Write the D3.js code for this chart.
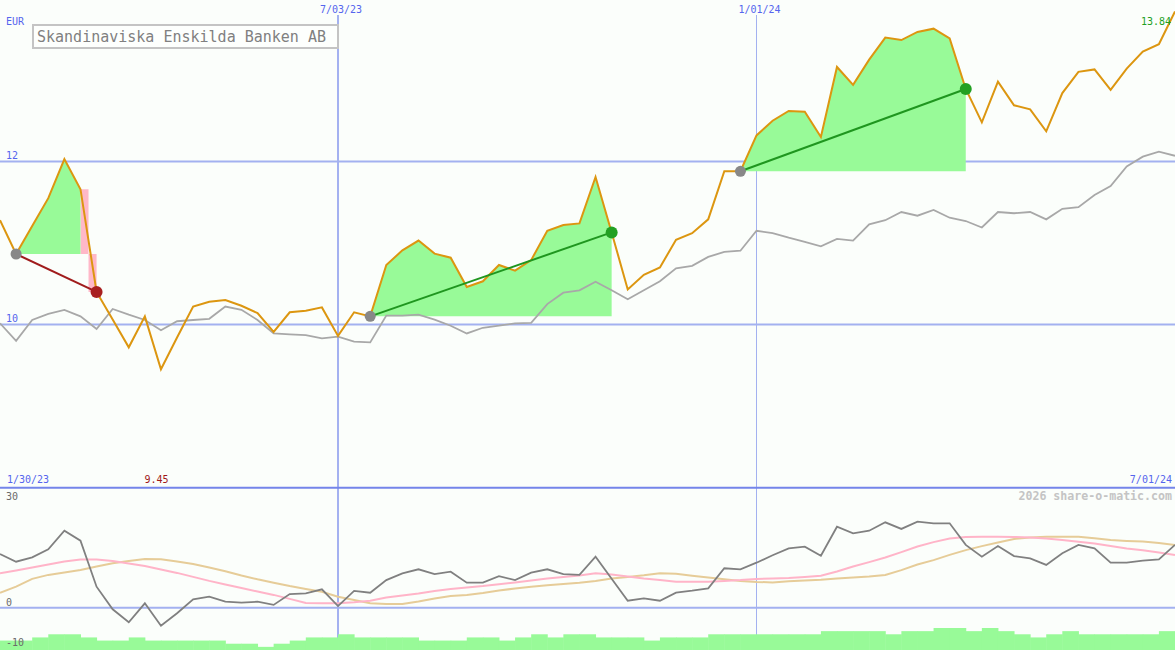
<!DOCTYPE html>
<html><head><meta charset="utf-8">
<script src="https://cdn.jsdelivr.net/npm/d3@7"></script>
<style>body{margin:0;background:#fbfefb}svg{display:block}</style>
</head><body>
<svg id="c" width="1175" height="650"></svg>
<script>
// ---- data ----
const startDate = new Date(2023, 1, 6);
const endDate = new Date(2024, 6, 1);
const dates = d3.timeMonday.range(startDate, new Date(2024, 6, 2));
const title = "Skandinaviska Enskilda Banken AB";
const currency = "EUR";
const priceTicks = [10, 12];
const lowerTicks = [30, 0, -10];
const gridDates = [new Date(2023, 6, 3), new Date(2024, 0, 1)];
const gridDateLabels = ["7/03/23", "1/01/24"];
const rangeLabels = ["1/30/23", "7/01/24"];
const price = [11.28,10.865,11.21,11.55,12.03,11.66,10.40,10.06,9.72,10.10,
  9.45,9.84,10.22,10.28,10.30,10.23,10.14,9.91,10.15,10.17,
  10.21,9.86,10.15,10.10,10.73,10.91,11.03,10.87,10.82,10.46,
  10.53,10.73,10.66,10.79,11.15,11.22,11.24,11.81,11.13,10.43,
  10.61,10.70,11.04,11.12,11.29,11.88,11.88,12.32,12.50,12.62,
  12.61,12.30,13.16,12.94,13.25,13.52,13.49,13.59,13.63,13.51,
  12.89,12.48,12.98,12.69,12.64,12.37,12.84,13.10,13.13,12.88,
  13.14,13.35,13.44,13.84];
const indexLine = [10.015,9.80,10.055,10.13,10.18,10.10,9.945,10.19,10.12,10.055,
  9.93,10.04,10.055,10.07,10.22,10.18,10.055,9.89,9.88,9.87,
  9.83,9.85,9.79,9.78,10.11,10.11,10.12,10.06,9.985,9.89,
  9.96,9.985,10.015,10.02,10.25,10.39,10.42,10.525,10.42,10.31,
  10.42,10.53,10.69,10.72,10.83,10.89,10.905,11.15,11.12,11.065,
  11.015,10.96,11.05,11.03,11.23,11.28,11.38,11.335,11.405,11.31,
  11.27,11.19,11.38,11.365,11.38,11.29,11.42,11.44,11.59,11.70,
  11.94,12.06,12.12,12.07];
const momentum = [13.4,11.5,12.6,14.6,19.25,16.75,5.25,-0.4,-3.65,1.1,
  -4.5,-1.4,2.1,2.75,1.5,1.25,1.5,0.7,3.4,3.6,
  4.6,0.4,4.2,3.75,6.9,8.6,9.6,8.4,9.0,6.25,
  6.25,7.9,6.9,8.75,9.6,8.4,8.2,12.75,7.25,1.75,
  2.35,1.75,3.75,4.25,4.85,9.85,9.6,11.25,13.1,14.85,
  15.25,13.0,20.25,18.6,19.25,21.35,19.7,21.5,21.1,21.1,
  15.7,12.75,15.4,12.9,12.35,10.7,13.6,15.7,14.85,11.25,
  11.25,11.75,12.1,15.7];
const avgFast = [8.6,9.3,10.05,10.8,11.55,12.05,12.05,11.7,11.05,10.4,
  9.55,8.7,7.7,6.7,5.8,4.9,4.05,3.2,2.2,1.2,
  1.1,1.1,1.35,1.75,2.55,3.05,3.55,4.2,4.7,5.05,
  5.4,5.85,6.3,6.8,7.3,7.7,8.05,8.6,8.3,7.8,
  7.3,6.9,6.5,6.5,6.5,6.7,6.9,7.2,7.3,7.4,
  7.7,8.0,9.05,10.3,11.4,12.55,13.9,15.3,16.4,17.3,
  17.7,17.75,17.75,17.7,17.55,17.3,16.9,16.5,16.05,15.4,
  14.8,14.35,13.8,13.2];
const avgSlow = [3.75,5.25,7.2,8.2,8.8,9.4,10.3,11.1,11.7,12.2,
  12.1,11.55,10.9,10.05,9.1,8.05,7.1,6.25,5.4,4.7,
  4.0,2.75,1.9,1.1,0.9,0.9,1.55,2.3,2.9,3.2,
  3.7,4.3,4.8,5.25,5.6,5.9,6.25,6.7,7.3,7.7,
  8.1,8.6,8.5,8.0,7.55,7.1,6.7,6.45,6.3,6.6,
  6.8,7.0,7.3,7.55,7.8,8.2,9.4,10.8,11.9,13.2,
  14.4,15.4,16.3,17.2,17.55,17.75,17.75,17.75,17.35,16.9,
  16.7,16.55,16.2,15.7];
const volume = [3,3,4,5,5,4,3,3,4,3,
  3,3,3,3,2,2,1,2,3,4,
  4,5,4,4,4,4,3,3,3,4,
  4,3,4,5,4,5,5,4,4,4,
  3,4,4,4,5,5,5,5,5,5,
  5,6,6,6,6,5,6,6,7,7,
  6,7,6,5,4,5,6,5,5,5,
  5,5,6];
const trades = [{buy:1, sell:6}, {buy:23, sell:38}, {buy:46, sell:60}];
const watermark = "2026 share-o-matic.com";

// ---- scales ----
const W = 1175, H = 650;
const svg = d3.select("#c");
const x = d3.scaleTime().domain([startDate, endDate]).range([0, W]);
const y = d3.scaleLinear().domain([10, 12]).range([324.5, 161.5]);
const yl = d3.scaleLinear().domain([-10, 30]).range([647.7, 487.7]);
const yv = d3.scaleLinear().domain([0, 7]).range([650, 628]);

const BLUE = "#5565ee", GRID = "#a3b1f0", SEP = "#7485ea";
const FONT = "'DejaVu Sans Mono', monospace";

svg.append("rect").attr("width", W).attr("height", H).attr("fill", "#fbfefb");

// grid
const g = svg.append("g");
priceTicks.forEach(t => g.append("line").attr("x1", 0).attr("x2", W)
  .attr("y1", y(t)).attr("y2", y(t)).attr("stroke", GRID).attr("stroke-width", 2));
g.append("line").attr("x1", 0).attr("x2", W).attr("y1", yl(0)).attr("y2", yl(0))
  .attr("stroke", GRID).attr("stroke-width", 2);
gridDates.forEach((d, i) => g.append("line").attr("x1", x(d)).attr("x2", x(d))
  .attr("y1", 15).attr("y2", H).attr("stroke", GRID).attr("stroke-width", i === 0 ? 2 : 1));
g.append("line").attr("x1", 0).attr("x2", W).attr("y1", yl(30)).attr("y2", yl(30))
  .attr("stroke", SEP).attr("stroke-width", 2);

// trade fills
const idx = d3.range(price.length);
trades.forEach(t => {
  const entry = price[t.buy];
  const pts = idx.slice(t.buy, t.sell + 1);
  // pink where price drops below entry
  pts.forEach(i => {
    if (i > t.buy && price[i] < entry) {
      const pa = d3.area().curve(d3.curveStep)
        .x(k => x(dates[k])).y0(y(entry)).y1(k => y(price[k]));
      svg.append("path").attr("d", pa([i - 1, i])).attr("fill", "#ffb8c8");
    }
  });
  const ga = d3.area().defined(k => price[k] >= entry)
    .x(k => x(dates[k])).y0(y(entry)).y1(k => y(price[k]));
  svg.append("path").attr("d", ga(pts)).attr("fill", "#98fa98");
});

// volume bars
svg.append("g").selectAll("rect").data(volume).join("rect")
  .attr("x", (v, i) => x(dates[i]))
  .attr("width", (v, i) => x(dates[i + 1]) - x(dates[i]) + 0.5)
  .attr("y", v => yv(v)).attr("height", v => 650 - yv(v))
  .attr("fill", "#98fa98");

// lower lines
const ll = arr => d3.line().x((v, i) => x(dates[i])).y(v => yl(v))(arr);
svg.append("path").attr("d", ll(avgSlow)).attr("fill", "none").attr("stroke", "#e6cc98").attr("stroke-width", 2);
svg.append("path").attr("d", ll(avgFast)).attr("fill", "none").attr("stroke", "#ffb4c8").attr("stroke-width", 2);
svg.append("path").attr("d", ll(momentum)).attr("fill", "none").attr("stroke", "#808080").attr("stroke-width", 1.8);

// price lines
const pl = arr => d3.line().x((v, i) => x(dates[i])).y(v => y(v))(arr);
svg.append("path").attr("d", pl(indexLine)).attr("fill", "none").attr("stroke", "#a8a8a8").attr("stroke-width", 1.8);
svg.append("path").attr("d", pl(price)).attr("fill", "none").attr("stroke", "#dc9610").attr("stroke-width", 2);

// trade lines and dots
trades.forEach(t => {
  const win = price[t.sell] >= price[t.buy];
  const col = win ? "#22a022" : "#a82020";
  svg.append("line").attr("x1", x(dates[t.buy])).attr("y1", y(price[t.buy]))
    .attr("x2", x(dates[t.sell])).attr("y2", y(price[t.sell]))
    .attr("stroke", win ? "#1f961f" : "#a01c1c").attr("stroke-width", 2);
  svg.append("circle").attr("cx", x(dates[t.buy])).attr("cy", y(price[t.buy])).attr("r", 5.5).attr("fill", "#888888");
  svg.append("circle").attr("cx", x(dates[t.sell])).attr("cy", y(price[t.sell])).attr("r", 6).attr("fill", col);
});

// title box
svg.append("rect").attr("x", 33).attr("y", 25).attr("width", 305).attr("height", 23)
  .attr("fill", "#fdfffd").attr("stroke", "#c4c4c4").attr("stroke-width", 2);
svg.append("text").attr("x", 37).attr("y", 41.5).text(title)
  .attr("font-family", FONT).attr("font-size", 15).attr("fill", "#808080");

// labels
const lab = (tx, xx, yy, col, anchor, size, weight) => svg.append("text")
  .attr("x", xx).attr("y", yy).text(tx).attr("font-family", FONT)
  .attr("font-size", size || 10).attr("fill", col)
  .attr("text-anchor", anchor || "start").attr("font-weight", weight || "normal");
lab(currency, 6, 25, BLUE);
priceTicks.forEach(t => lab(String(t), 6, y(t) - 2.5, BLUE));
gridDates.forEach((d, i) => lab(gridDateLabels[i], x(d) + 3, 13, BLUE, "middle"));
lab(rangeLabels[0], 7, 483, BLUE);
lab(rangeLabels[1], 1172, 483, BLUE, "end");
const minI = d3.minIndex(price);
lab(d3.format(".2f")(price[minI]), x(dates[minI]) - 4.5, 483, "#a01818", "middle");
lab(d3.format(".2f")(price[price.length - 1]), 1171, 25, "#22a022", "end");
lab(watermark, 1172, 500, "#c4c4c4", "end", 11.6, "bold");
lowerTicks.forEach(t => lab(String(t), 6, t === 30 ? 500 : yl(t) - 2, "#6a6a6a"));
</script>
</body></html>
